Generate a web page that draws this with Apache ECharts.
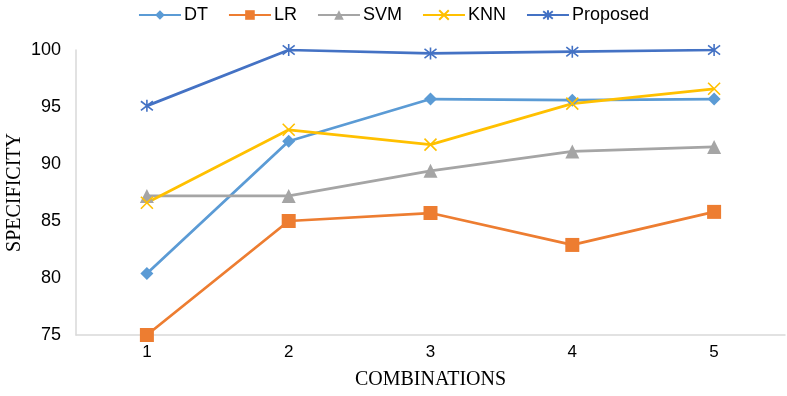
<!DOCTYPE html>
<html><head><meta charset="utf-8">
<script src="https://cdn.jsdelivr.net/npm/echarts@6/dist/echarts.min.js"></script>
<style>html,body{margin:0;padding:0;background:#fff}#c{width:787px;height:396px}</style>
</head><body><div id="c"></div>
<script>
var categories = ['1','2','3','4','5'];
var dt = [80.4, 92.0, 95.7, 95.6, 95.7];
var lr = [75.0, 85.0, 85.7, 82.9, 85.8];
var svm = [87.2, 87.2, 89.4, 91.1, 91.5];
var knn = [86.6, 93.0, 91.7, 95.3, 96.6];
var proposed = [95.1, 100.0, 99.7, 99.85, 100.0];

var crossPath = 'path://M0 0L10 10M10 0L0 10';
var starPath = 'path://M0 0L10 10M10 0L0 10M5 -1.5L5 11.5';

function mk(name, data, color, symbol, size, stroked) {
  return {
    name: name, type: 'line', data: data, symbol: symbol, symbolSize: size,
    lineStyle: {color: color, width: 2.75},
    itemStyle: stroked ? {color: 'rgba(0,0,0,0)', borderColor: color, borderWidth: 1.6} : {color: color},
    z: 2
  };
}
var chart = echarts.init(document.getElementById('c'));
chart.setOption({
  animation: false,
  color: ['#5B9BD5','#ED7D31','#A5A5A5','#FFC000','#4472C4'],
  legend: {
    top: 1, left: 'center', itemWidth: 42, itemHeight: 12, itemGap: 20,
    textStyle: {fontFamily: 'Liberation Sans', fontSize: 18, color: '#000', padding: [0,0,0,-2]},
    data: ['DT','LR','SVM','KNN','Proposed']
  },
  grid: {left: 76, right: 2, top: 50, bottom: 61, containLabel: false, outerBoundsMode: 'none'},
  xAxis: {
    type: 'category', data: categories, boundaryGap: true,
    name: 'COMBINATIONS', nameLocation: 'middle', nameGap: 35, nameMoveOverlap: false,
    nameTextStyle: {fontFamily: 'Liberation Serif', fontSize: 20, color: '#000'},
    axisLine: {lineStyle: {color: '#D9D9D9', width: 1.5}},
    axisTick: {show: false},
    axisLabel: {fontFamily: 'Liberation Sans', fontSize: 17, color: '#000', margin: 9}
  },
  yAxis: {
    type: 'value', min: 75, max: 100, interval: 5,
    name: 'SPECIFICITY', nameLocation: 'middle', nameGap: 51, nameMoveOverlap: false,
    nameTextStyle: {fontFamily: 'Liberation Serif', fontSize: 20, color: '#000'},
    axisLine: {show: true, lineStyle: {color: '#D9D9D9', width: 1.5}},
    axisTick: {show: false},
    splitLine: {show: false},
    axisLabel: {fontFamily: 'Liberation Sans', fontSize: 18, color: '#000', margin: 15}
  },
  series: [
    mk('DT', dt, '#5B9BD5', 'diamond', 13, false),
    mk('LR', lr, '#ED7D31', 'rect', 14, false),
    mk('SVM', svm, '#A5A5A5', 'triangle', 14, false),
    mk('KNN', knn, '#FFC000', crossPath, 12, true),
    mk('Proposed', proposed, '#4472C4', starPath, 12, true)
  ]
});
</script></body></html>
